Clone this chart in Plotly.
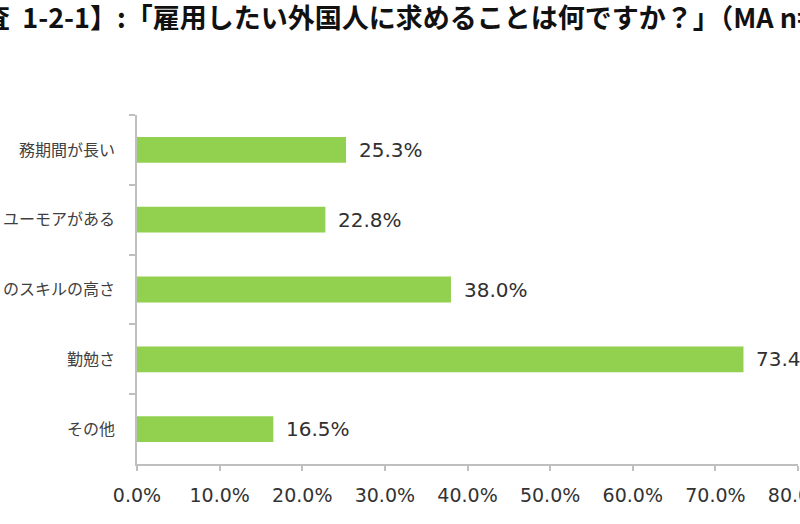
import plotly.graph_objects as go

categories = ["務期間が長い", "ユーモアがある", "のスキルの高さ", "勤勉さ", "その他"]
values = [25.3, 22.8, 38.0, 73.4, 16.5]
x_ticks = [0, 10, 20, 30, 40, 50, 60, 70, 80]
x_tick_labels = ["0.0%", "10.0%", "20.0%", "30.0%", "40.0%", "50.0%", "60.0%", "70.0%", "80.0%"]
title_text = "査  1-2-1】:「雇用したい外国人に求めることは何ですか？」（MA n="

fig = go.Figure()
fig.add_trace(go.Bar(
    x=values, y=categories, orientation="h",
    marker=dict(color="#92d050", line=dict(width=0)),
    width=0.37, hoverinfo="skip",
))

annotations = []
for c, v in zip(categories, values):
    annotations.append(dict(
        x=v, y=c, xref="x", yref="y", text=f"{v:.1f}%", showarrow=False,
        xanchor="left", yanchor="middle", xshift=11,
        font=dict(family="DejaVu Sans", size=20, color="#303030"),
    ))
annotations.append(dict(
    x=0, y=1, xref="paper", yref="paper", text=title_text, showarrow=False,
    xanchor="left", yanchor="middle", xshift=-156, yshift=99,
    font=dict(family="Noto Sans CJK JP", size=27, color="#111111", weight="bold"),
))

fig.update_layout(
    width=800, height=524,
    margin=dict(l=137, r=2, t=115, b=60, autoexpand=False),
    paper_bgcolor="white", plot_bgcolor="white",
    showlegend=False,
    annotations=annotations,
    xaxis=dict(
        range=[0, 80], tickmode="array", tickvals=x_ticks, ticktext=x_tick_labels,
        showgrid=False, zeroline=False, showline=True, linecolor="#bfbfbf", linewidth=1.5,
        ticks="outside", ticklen=5, tickcolor="#bfbfbf", tickwidth=1.5,
        ticklabelstandoff=8, ticklabeloverflow="allow",
        tickfont=dict(family="DejaVu Sans", size=19, color="#333333"),
        automargin=False, fixedrange=True,
    ),
    yaxis=dict(
        autorange="reversed", showgrid=False, zeroline=False,
        showline=True, linecolor="#bfbfbf", linewidth=1.5,
        ticks="outside", ticklen=6, tickcolor="#bfbfbf", tickwidth=1.5,
        tickson="boundaries", ticklabelstandoff=17,
        tickfont=dict(family="Noto Sans CJK JP", size=16, color="#404040"),
        automargin=False, fixedrange=True,
    ),
)

fig.write_html(
    "out.html",
    config={"displayModeBar": False},
    post_script="document.body.style.margin='0';document.body.style.overflow='hidden';",
)
